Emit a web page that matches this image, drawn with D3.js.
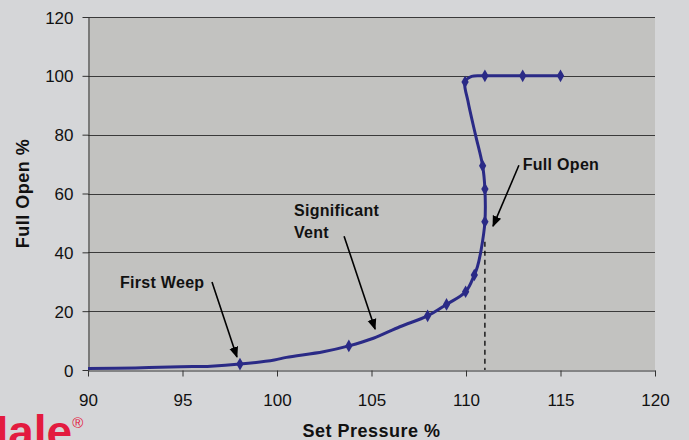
<!DOCTYPE html>
<html>
<head>
<meta charset="utf-8">
<script src="https://cdn.jsdelivr.net/npm/d3@7"></script>
<style>
  html, body { margin: 0; padding: 0; background: #d5d6d8; }
  svg { display: block; font-family: "Liberation Sans", Arial, sans-serif; }
</style>
</head>
<body>
<svg id="chart"></svg>
<script>
// curve through the measured points (set pressure %, full open %)
const curvePressure = [90, 92.5, 94.9, 96.5, 98.04, 99.86, 100.5, 102.45, 103.8, 105.1, 106.5, 107.97, 108.97, 109.98, 110.44, 110.6, 110.8, 111.0, 111.0, 110.88, 110.5, 110.1, 109.95, 110.3, 111, 113, 115];
const curveOpen     = [0.5, 0.7, 1.1, 1.3, 2.0, 3.4, 4.3, 6.2, 8.2, 10.8, 14.7, 18.4, 22.3, 26.6, 32.3, 35, 40.8, 50.4, 61.5, 69.4, 80, 91.5, 97.9, 99.8, 100, 100, 100];

// points that carry a diamond marker
const markerPressure = [98.04, 103.8, 107.97, 108.97, 109.98, 110.44, 111.0, 111.0, 110.88, 109.95, 111, 113, 115];
const markerOpen     = [2.0, 8.2, 18.4, 22.3, 26.6, 32.3, 50.4, 61.5, 69.4, 97.9, 100, 100, 100];

const xTicks = [90, 95, 100, 105, 110, 115, 120];
const yTicks = [0, 20, 40, 60, 80, 100, 120];

// full open marker (dashed drop line)
const fullOpenAt = 111.0;
const fullOpenTop = 43.6;

// annotations: label lines, anchor in data units, arrow from/to in data units
const notes = [
  { lines: ['First Weep'], x: 91.69, y: 27.9, from: [96.56, 29.9], to: [97.88, 4.4] },
  { lines: ['Significant', 'Vent'], x: 100.9, y: 52.3, from: [103.55, 45.5], to: [105.19, 13.9] },
  { lines: ['Full Open'], x: 113.0, y: 67.9, from: [112.8, 69.6], to: [111.43, 48.9] }
];

const W = 689, H = 440;
const margin = { top: 17, right: 34, bottom: 70, left: 88 };

const svg = d3.select('#chart').attr('width', W).attr('height', H);

const x = d3.scaleLinear().domain([90, 120]).range([margin.left, W - margin.right]);
const y = d3.scaleLinear().domain([0, 120]).range([H - margin.bottom, margin.top]);

svg.append('defs').append('marker')
  .attr('id', 'arrow')
  .attr('viewBox', '0 0 10 10')
  .attr('refX', 9).attr('refY', 5)
  .attr('markerWidth', 7).attr('markerHeight', 7)
  .attr('orient', 'auto')
  .append('path')
  .attr('d', 'M0,1 L10,5 L0,9 Z')
  .attr('fill', '#000');

// plot area
svg.append('rect')
  .attr('x', x(90)).attr('y', y(120))
  .attr('width', x(120) - x(90)).attr('height', y(0) - y(120))
  .attr('fill', '#c2c2c0');

// gridlines
svg.append('g')
  .selectAll('line')
  .data(yTicks.filter(d => d > 0))
  .join('line')
  .attr('x1', x(90)).attr('x2', x(120))
  .attr('y1', d => Math.round(y(d)) + 0.5).attr('y2', d => Math.round(y(d)) + 0.5)
  .attr('stroke', '#3a3a3a').attr('stroke-width', 1);

// axes
const xAxis = svg.append('g')
  .attr('transform', `translate(0,${Math.round(y(0)) + 0.5})`)
  .call(d3.axisBottom(x).tickValues(xTicks).tickSize(6).tickSizeOuter(0).tickPadding(17));
const yAxis = svg.append('g')
  .attr('transform', `translate(${Math.round(x(90)) + 0.5},0)`)
  .call(d3.axisLeft(y).tickValues(yTicks).tickSize(6).tickSizeOuter(0).tickPadding(9));

[xAxis, yAxis].forEach(g => {
  g.select('.domain').attr('stroke', '#333');
  g.selectAll('.tick line').attr('stroke', '#333');
  g.selectAll('.tick text')
    .attr('font-family', '"Liberation Sans", Arial, sans-serif')
    .attr('font-size', 17).attr('fill', '#111');
});
yAxis.selectAll('.tick text').attr('dy', '0.36em');

// dashed drop line at full open
svg.append('line')
  .attr('x1', x(fullOpenAt)).attr('x2', x(fullOpenAt))
  .attr('y1', y(fullOpenTop)).attr('y2', y(0))
  .attr('stroke', '#000').attr('stroke-width', 1.3)
  .attr('stroke-dasharray', '5,4');

// curve
const curve = curvePressure.map((p, i) => [p, curveOpen[i]]);
const line = d3.line()
  .x(d => x(d[0]))
  .y(d => y(d[1]))
  .curve(d3.curveCatmullRom.alpha(0.5));

svg.append('path')
  .datum(curve)
  .attr('fill', 'none')
  .attr('stroke', '#2a2a86')
  .attr('stroke-width', 3)
  .attr('stroke-linejoin', 'round')
  .attr('d', line);

// markers
const markers = markerPressure.map((p, i) => [p, markerOpen[i]]);
svg.append('g')
  .selectAll('path')
  .data(markers)
  .join('path')
  .attr('transform', d => `translate(${x(d[0])},${y(d[1])})`)
  .attr('d', d3.symbol(d3.symbolDiamond, 46))
  .attr('fill', '#2a2a86');

// annotations
notes.forEach(n => {
  const t = svg.append('text')
    .attr('x', x(n.x)).attr('y', y(n.y))
    .attr('font-size', 16).attr('font-weight', 'bold')
    .attr('letter-spacing', 0.3)
    .attr('fill', '#111');
  n.lines.forEach((s, i) => {
    t.append('tspan').attr('x', x(n.x)).attr('dy', i === 0 ? 0 : 22).text(s);
  });
  svg.append('line')
    .attr('x1', x(n.from[0])).attr('y1', y(n.from[1]))
    .attr('x2', x(n.to[0])).attr('y2', y(n.to[1]))
    .attr('stroke', '#000').attr('stroke-width', 1.6)
    .attr('marker-end', 'url(#arrow)');
});

// axis titles
svg.append('text')
  .attr('x', (x(90) + x(120)) / 2).attr('y', 437)
  .attr('text-anchor', 'middle')
  .attr('font-size', 18).attr('font-weight', 'bold')
  .attr('letter-spacing', 0.5).attr('fill', '#111')
  .text('Set Pressure %');

svg.append('text')
  .attr('transform', `translate(29,${(y(0) + y(120)) / 2}) rotate(-90)`)
  .attr('text-anchor', 'middle')
  .attr('font-size', 18).attr('font-weight', 'bold')
  .attr('letter-spacing', 0.5).attr('fill', '#111')
  .text('Full Open %');

// logo, cut off by the bottom edge as in the source image
const logo = svg.append('text')
  .attr('x', -25).attr('y', 448)
  .attr('font-size', 46).attr('font-weight', 'bold')
  .attr('fill', '#e31b3f');
logo.append('tspan').text('Hale');
logo.append('tspan').attr('font-size', 15).attr('font-weight', 'normal').attr('dy', -20).text('®');
</script>
</body>
</html>
